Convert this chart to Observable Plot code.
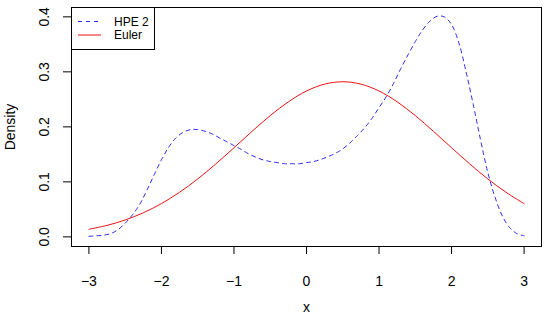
<!DOCTYPE html>
<html>
<head>
<meta charset="utf-8">
<script src="https://cdn.jsdelivr.net/npm/d3@7"></script>
<script src="https://cdn.jsdelivr.net/npm/@observablehq/plot@0.6"></script>
<style>
  html, body { margin: 0; padding: 0; background: #fff; }
  #wrap { position: relative; width: 546px; height: 315px; font-family: "Liberation Sans", Arial, sans-serif; }
  #legend { position: absolute; left: 71px; top: 7px; width: 84px; height: 43px; border: 1px solid #000; background: #fff; box-sizing: border-box; }
</style>
</head>
<body>
<div id="wrap"></div>
<script>
// Data
const seriesNames = ["HPE 2", "Euler"];
const seriesColors = ["#2a2af0", "#ee1111"];

const hpeX = [-3.0, -2.9, -2.8, -2.7, -2.6, -2.5, -2.4, -2.3, -2.2, -2.1, -2.0, -1.9, -1.8, -1.7, -1.6, -1.5, -1.4, -1.3, -1.2, -1.1, -1.0, -0.9, -0.8, -0.7, -0.6, -0.5, -0.4, -0.3, -0.2, -0.1, 0.0, 0.1, 0.2, 0.3, 0.4, 0.5, 0.6, 0.7, 0.8, 0.9, 1.0, 1.1, 1.2, 1.3, 1.4, 1.5, 1.6, 1.7, 1.8, 1.9, 2.0, 2.1, 2.2, 2.3, 2.4, 2.5, 2.6, 2.7, 2.8, 2.9, 3.0];
const hpeY = [0.001, 0.002, 0.003, 0.006, 0.013, 0.025, 0.040, 0.059, 0.085, 0.113, 0.140, 0.163, 0.180, 0.190, 0.195, 0.195, 0.192, 0.187, 0.180, 0.173, 0.166, 0.159, 0.151, 0.145, 0.140, 0.137, 0.135, 0.133, 0.133, 0.133, 0.135, 0.137, 0.141, 0.146, 0.152, 0.160, 0.171, 0.184, 0.198, 0.215, 0.235, 0.255, 0.279, 0.306, 0.331, 0.355, 0.376, 0.392, 0.401, 0.400, 0.386, 0.353, 0.300, 0.240, 0.176, 0.117, 0.072, 0.038, 0.017, 0.006, 0.002];

const eulerX = [-3.00, -2.75, -2.50, -2.25, -2.00, -1.75, -1.50, -1.25, -1.00, -0.75, -0.50, -0.25, 0.00, 0.25, 0.50, 0.75, 1.00, 1.25, 1.50, 1.75, 2.00, 2.25, 2.50, 2.75, 3.00];
const eulerY = [0.0138, 0.0209, 0.0307, 0.0438, 0.0605, 0.0811, 0.1053, 0.1327, 0.1620, 0.1919, 0.2205, 0.2455, 0.2652, 0.2777, 0.2820, 0.2777, 0.2652, 0.2455, 0.2205, 0.1919, 0.1620, 0.1327, 0.1053, 0.0811, 0.0605];

const xTicks = [-3, -2, -1, 0, 1, 2, 3];
const yTicks = [0.0, 0.1, 0.2, 0.3, 0.4];
const xLabel = "x";
const yLabel = "Density";

const hpe = hpeX.map((x, i) => ({x, y: hpeY[i]}));
const euler = eulerX.map((x, i) => ({x, y: eulerY[i]}));

const fmtX = d => d < 0 ? "\u2212" + Math.abs(d) : String(d);

const chart = Plot.plot({
  width: 546,
  height: 315,
  marginLeft: 71,
  marginRight: 5,
  marginTop: 7,
  marginBottom: 69,
  style: {fontFamily: "'Liberation Sans', Arial, sans-serif", fontSize: "14px", background: "#fff", color: "#000"},
  x: {domain: [-3.24, 3.24]},
  y: {domain: [-0.0175, 0.417]},
  marks: [
    Plot.line(euler, {x: "x", y: "y", stroke: seriesColors[1], strokeWidth: 1, curve: "catmull-rom"}),
    Plot.line(hpe, {x: "x", y: "y", stroke: seriesColors[0], strokeWidth: 1, strokeDasharray: "4,4", curve: "catmull-rom"}),
    Plot.axisX({ticks: xTicks, tickSize: 8, tickPadding: 22, tickFormat: fmtX, fontSize: 14, label: null, stroke: "#000"}),
    Plot.axisY({ticks: yTicks, tickSize: 8, tickFormat: () => "", label: null, stroke: "#000"}),
    Plot.text(yTicks, {y: d => d, text: d => d.toFixed(1), frameAnchor: "left", dx: -27, rotate: -90, textAnchor: "middle", lineAnchor: "middle", fontSize: 14, fill: "#000"}),
    Plot.text([yLabel], {frameAnchor: "left", dx: -61, rotate: -90, textAnchor: "middle", lineAnchor: "middle", fontSize: 14, fill: "#000"}),
    Plot.text([xLabel], {frameAnchor: "bottom", dy: 61, textAnchor: "middle", lineAnchor: "middle", fontSize: 14, fill: "#000"}),
    Plot.frame({stroke: "#000", strokeWidth: 1})
  ]
});

const wrap = document.getElementById("wrap");
wrap.appendChild(chart);

// Legend inside the plot box (top-left), as in the reference
const legend = document.createElement("div");
legend.id = "legend";
const dashes = ["4,4", null];
let svg = `<svg width="84" height="43" style="position:absolute;left:-1px;top:-1px">`;
seriesNames.forEach((name, i) => {
  const cy = 14.5 + i * 13.5;
  svg += `<line x1="7" x2="30" y1="${cy}" y2="${cy}" stroke="${seriesColors[i]}" stroke-width="1"${dashes[i] ? ` stroke-dasharray="${dashes[i]}"` : ""}/>`;
  svg += `<text x="43" y="${cy}" dominant-baseline="central" font-size="12" font-family="'Liberation Sans', Arial, sans-serif" fill="#000">${name}</text>`;
});
svg += `</svg>`;
legend.innerHTML = svg;
wrap.appendChild(legend);
</script>
</body>
</html>
